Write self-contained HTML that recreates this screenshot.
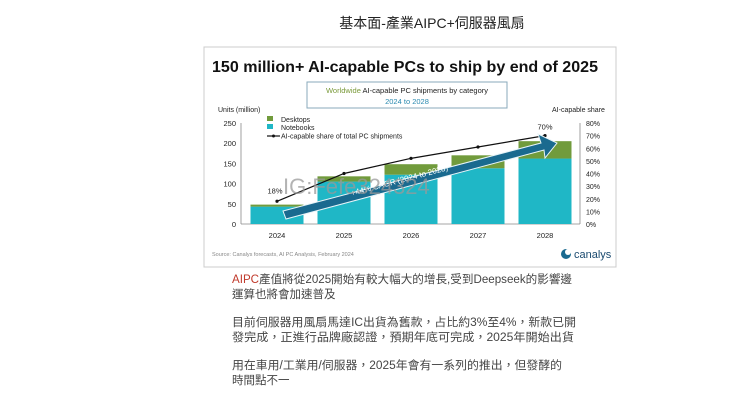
<!DOCTYPE html>
<html><head><meta charset="utf-8"><style>
html,body{margin:0;padding:0;background:#fff;width:740px;height:416px;overflow:hidden}
svg text{font-family:"Liberation Sans","Noto Sans CJK TC",sans-serif}
</style></head><body>
<svg id="c" width="740" height="416" viewBox="0 0 740 416">
<text x="432" y="28" font-size="14" text-anchor="middle" fill="#222">基本面-產業AIPC+伺服器風扇</text>
<rect x="204" y="47" width="412" height="220" fill="#fff" stroke="#ccc"/>
<text x="212" y="72" font-size="16" font-weight="bold" fill="#111" textLength="386" lengthAdjust="spacingAndGlyphs">150 million+ AI-capable PCs to ship by end of 2025</text>
<rect x="307" y="82" width="200" height="26" fill="#fff" stroke="#8ab"/>
<text x="407" y="93" font-size="7.5" text-anchor="middle" fill="#222"><tspan fill="#7a9a3a">Worldwide</tspan> AI-capable PC shipments by category</text>
<text x="407" y="104" font-size="7.5" text-anchor="middle" fill="#2a8ab0">2024 to 2028</text>
<text x="218" y="112" font-size="7" fill="#222">Units (million)</text>
<text x="552" y="112" font-size="7" fill="#222">AI-capable share</text>
<g id="plot"></g>
<text x="212" y="256" font-size="5.5" fill="#888">Source: Canalys forecasts, AI PC Analysis, February 2024</text>
<g><circle cx="566" cy="254" r="5" fill="#1a6a8f"/><circle cx="568" cy="252" r="3" fill="#fff"/><text x="574" y="258" font-size="11" fill="#1a4a6f">canalys</text></g>
<g font-size="11.5" fill="#444">
<text x="232" y="283" textLength="340" lengthAdjust="spacingAndGlyphs"><tspan fill="#c0392b">AIPC</tspan>產值將從2025開始有較大幅大的增長,受到Deepseek的影響邊</text>
<text x="232" y="298">運算也將會加速普及</text>
<text x="232" y="326" textLength="344" lengthAdjust="spacingAndGlyphs">目前伺服器用風扇馬達IC出貨為舊款，占比約3%至4%，新款已開</text>
<text x="232" y="341" textLength="342" lengthAdjust="spacingAndGlyphs">發完成，正進行品牌廠認證，預期年底可完成，2025年開始出貨</text>
<text x="232" y="369" textLength="330" lengthAdjust="spacingAndGlyphs">用在車用/工業用/伺服器，2025年會有一系列的推出，但發酵的</text>
<text x="232" y="384">時間點不一</text>
</g>
</svg>
<script>
const years=["2024","2025","2026","2027","2028"];
const notebooks=[43,105,122,138,162];
const desktops=[5,13,26,32,43];
const share=[18,40,52,61,70];
const leftTicks=[0,50,100,150,200,250];
const rightTicks=[0,10,20,30,40,50,60,70,80];
const NS="http://www.w3.org/2000/svg";
const g=document.getElementById('plot');
const y0=224,yTop=123;
const cx=i=>277+67*i;
const yL=v=>y0-(v/250)*(y0-yTop);
const yR=v=>y0-(v/80)*(y0-yTop);
function el(t,a,txt){const e=document.createElementNS(NS,t);for(const k in a)e.setAttribute(k,a[k]);if(txt!=null)e.textContent=txt;g.appendChild(e);return e;}
leftTicks.forEach(v=>{const t=el('text',{x:236,y:yL(v)+3,'font-size':7.5,'text-anchor':'end',fill:'#222'},v);

});
rightTicks.forEach(v=>{const t=el('text',{x:586,y:yR(v)+3,'font-size':7,fill:'#222'},v+'%');

});
el('line',{x1:241,x2:241,y1:yTop,y2:y0,stroke:'#888','stroke-width':0.8});
el('line',{x1:580,x2:580,y1:yTop,y2:y0,stroke:'#888','stroke-width':0.8});
el('line',{x1:241,x2:580,y1:y0,y2:y0,stroke:'#888','stroke-width':0.8});
years.forEach((yr,i)=>{
 const c=cx(i),w=53;
 const n=el('rect',{x:c-w/2,y:yL(notebooks[i]),width:w,height:y0-yL(notebooks[i]),fill:'#1fb7c6'});
 
 
 const tot=notebooks[i]+desktops[i];
 const d=el('rect',{x:c-w/2,y:yL(tot),width:w,height:yL(notebooks[i])-yL(tot),fill:'#719b3c'});
 
 
 const t=el('text',{x:c,y:238,'font-size':7.5,'text-anchor':'middle',fill:'#222'},yr);
 
 
});
const pts=share.map((s,i)=>[cx(i),yR(s)]);
const ln=el('path',{d:'M'+pts.map(p=>p.join(',')).join(' L'),fill:'none',stroke:'#111','stroke-width':1.2});


pts.forEach((p,i)=>{const m=el('circle',{cx:p[0],cy:p[1],r:1.6,fill:'#111'});

});
el('text',{x:pts[0][0]-2,y:pts[0][1]-8,'font-size':7.5,'text-anchor':'middle',fill:'#222'},share[0]+'%');
el('text',{x:pts[4][0],y:pts[4][1]-6,'font-size':7.5,'text-anchor':'middle',fill:'#222'},share[4]+'%');
const ar=el('polygon',{points:'283,211 541,143 538,134 557,143 545,158 544,150 286,219',fill:'#1a6a8f',stroke:'#e8f4f8','stroke-width':1});


const at=el('text',{x:400,y:183,'font-size':8,fill:'#fff','text-anchor':'middle',transform:'rotate(-15 400 183)'},'+44% CAGR (2024 to 2028)');


const wm=el('text',{x:283,y:194,'font-size':22,fill:'#999','fill-opacity':0.75},'IG:Fefe324324');


const l1=el('rect',{x:267,y:116,width:6,height:5,fill:'#719b3c'});


el('text',{x:281,y:122,'font-size':7,fill:'#222'},'Desktops');
const l2=el('rect',{x:267,y:124,width:6,height:5,fill:'#1fb7c6'});


el('text',{x:281,y:130,'font-size':7,fill:'#222'},'Notebooks');
const l3=el('line',{x1:267,x2:280,y1:136,y2:136,stroke:'#111','stroke-width':1.2});


el('circle',{cx:273.5,cy:136,r:1.5,fill:'#111'});
el('text',{x:281,y:138.5,'font-size':7,fill:'#222'},'AI-capable share of total PC shipments');
</script>
</body></html>
